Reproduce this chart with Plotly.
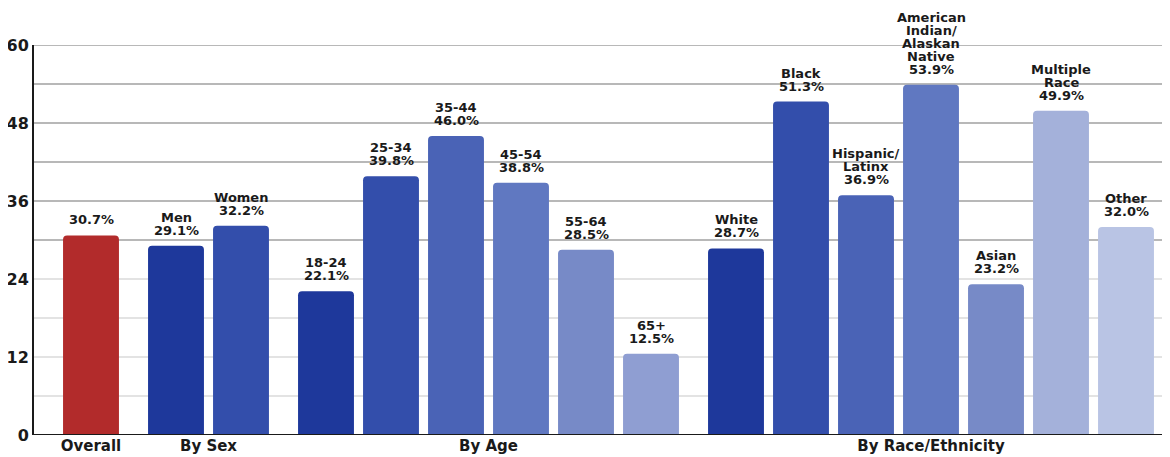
import plotly.graph_objects as go

# data
groups = ["Overall", "By Sex", "By Age", "By Race/Ethnicity"]
group_of = [0, 1, 1, 2, 2, 2, 2, 2, 2, 3, 3, 3, 3, 3, 3, 3]
names = ["", "Men", "Women",
         "18-24", "25-34", "35-44", "45-54", "55-64", "65+",
         "White", "Black", "Hispanic/<br>Latinx", "American<br>Indian/<br>Alaskan<br>Native",
         "Asian", "Multiple<br>Race", "Other"]
values = [30.7, 29.1, 32.2,
          22.1, 39.8, 46.0, 38.8, 28.5, 12.5,
          28.7, 51.3, 36.9, 53.9, 23.2, 49.9, 32.0]
colors = ["#b22b2b", "#1e389b", "#334eab",
          "#1e389b", "#334eab", "#4a63b6", "#6078c1", "#778ac7", "#8f9ed2",
          "#1e389b", "#334eab", "#4a63b6", "#6078c1", "#778ac7", "#a4b1da", "#b9c4e4"]

GAP = 20 / 65  # extra space between groups, in bar slots
xs = [i + g * GAP for i, g in enumerate(group_of)]
group_x = []
for g in range(len(groups)):
    members = [x for x, gg in zip(xs, group_of) if gg == g]
    group_x.append((min(members) + max(members)) / 2)

font = "DejaVu Sans"

fig = go.Figure(go.Bar(
    x=xs, y=values, width=0.86,
    marker=dict(color=colors, line_width=0, cornerradius=4),
    hoverinfo="skip",
))

# bar labels, one annotation per text line so the lines sit close together
for x, v, n in zip(xs, values, names):
    lines = ([n] if n else []) + [f"{v:.1f}%"]
    lines = "<br>".join(lines).split("<br>")
    for k, line in enumerate(reversed(lines)):
        fig.add_annotation(x=x, y=v, text=f"<b>{line}</b>", showarrow=False,
                           yanchor="bottom", yshift=6 + k * 13,
                           font=dict(family=font, size=13, color="#1a1a1a"))

# gridlines: darker in the upper part, lighter near the base
for gy in range(6, 61, 6):
    col = "#b8b8b8" if gy >= 30 else "#e3e3e3"
    fig.add_shape(type="line", xref="paper", x0=0, x1=1, yref="y", y0=gy, y1=gy,
                  line=dict(color=col, width=2), layer="below")

# page body has an 8px margin, so the figure is 8px smaller each way
fig.update_layout(
    width=1162, height=449,
    margin=dict(l=26, r=0, t=37, b=22),
    plot_bgcolor="white", paper_bgcolor="white",
    showlegend=False,
    xaxis=dict(range=[-0.877, 16.6], tickvals=group_x, ticktext=[f"<b>{g}</b>" for g in groups],
               showgrid=False, zeroline=False, showline=False, ticks="",
               tickfont=dict(family=font, size=15, color="#1a1a1a")),
    yaxis=dict(range=[0, 60], tickvals=[0, 12, 24, 36, 48, 60],
               ticktext=[f"<b>{t}</b>" for t in [0, 12, 24, 36, 48, 60]],
               showgrid=False, zeroline=False, showline=True, linecolor="#1a1a1a",
               linewidth=2, ticks="", ticklabelstandoff=0,
               tickfont=dict(family=font, size=16, color="#1a1a1a")),
)
fig.add_shape(type="line", xref="paper", x0=0, x1=1, yref="y", y0=0, y1=0,
              line=dict(color="#1a1a1a", width=2))

fig.write_html("out.html")
